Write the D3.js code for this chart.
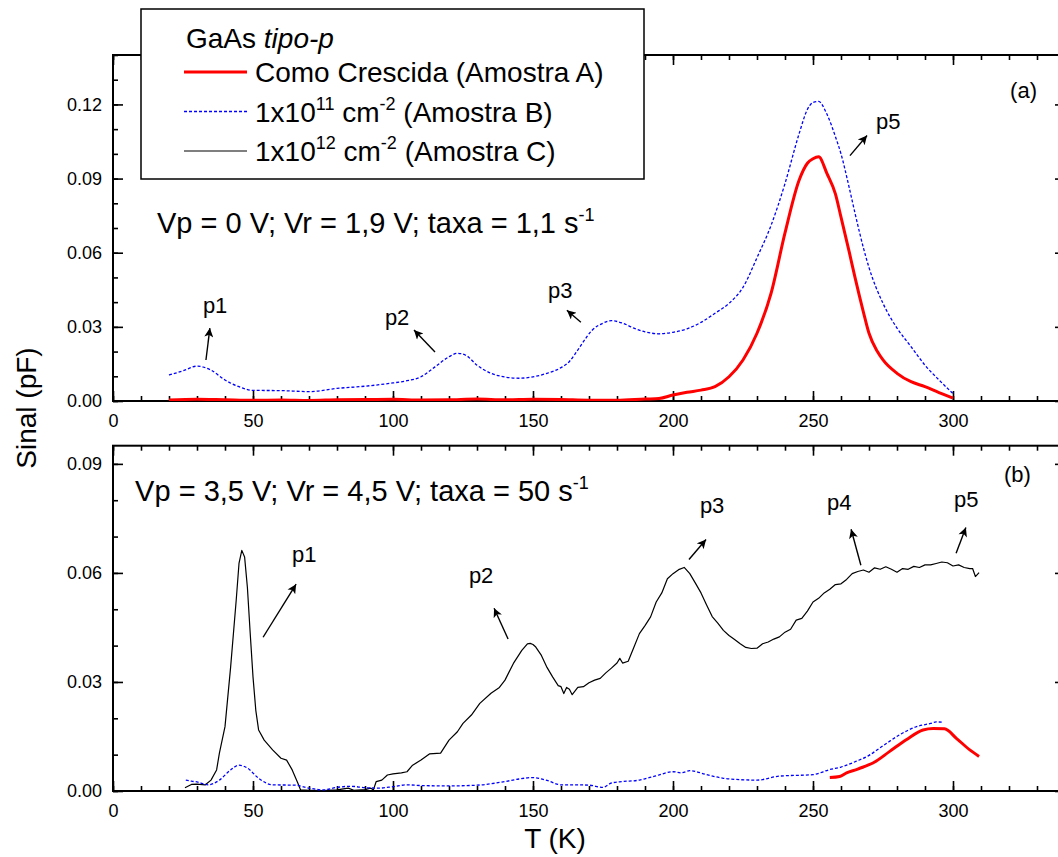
<!DOCTYPE html>
<html><head><meta charset="utf-8">
<script src="https://cdn.jsdelivr.net/npm/d3@7"></script>
<style>
body{margin:0;background:#fff;}
svg{display:block;font-family:"Liberation Sans",Arial,sans-serif;}
</style></head>
<body><svg id="c" width="1058" height="857"></svg>
<script>
// ---------- DATA ----------
// Panel (a): Vp = 0 V; Vr = 1,9 V; taxa = 1,1 s-1
const aT_A = [20,30,40,50,60,70,80,90,100,110,120,130,140,150,160,170,180,190,195,200,205,210,215,220,225,230,235,240,245,248,250,252,255,258,260,263,265,268,270,273,275,280,285,290,295,300];
const aV_A = [0.0004,0.0007,0.0005,0.0003,0.0004,0.0002,0.0005,0.0006,0.0007,0.0004,0.0005,0.0008,0.0005,0.0007,0.0006,0.0003,0.0003,0.0008,0.001,0.0024,0.0035,0.0044,0.0058,0.0098,0.0166,0.0274,0.0435,0.068,0.0892,0.0962,0.098,0.0988,0.092,0.0838,0.0744,0.060,0.050,0.036,0.0274,0.020,0.0166,0.0112,0.0078,0.0058,0.0034,0.0012];
const aT_B = [20,25,30,35,40,45,50,60,70,80,90,100,105,110,115,120,123,126,130,135,140,145,150,155,160,163,165,168,171,175,178,182,186,190,195,200,205,210,215,220,225,230,235,240,245,248,250,252,255,258,260,263,265,268,270,275,280,285,290,295,300];
const aV_B = [0.0105,0.0122,0.0141,0.0125,0.0085,0.0058,0.0043,0.0042,0.0038,0.0051,0.006,0.0073,0.0082,0.0098,0.0138,0.0179,0.0193,0.0185,0.0145,0.0112,0.0097,0.0092,0.0098,0.0112,0.0135,0.016,0.019,0.024,0.0285,0.0315,0.0325,0.0315,0.0295,0.028,0.0272,0.0278,0.0292,0.0318,0.0355,0.0395,0.046,0.058,0.071,0.088,0.108,0.118,0.1208,0.1212,0.116,0.107,0.100,0.086,0.076,0.062,0.054,0.0395,0.0295,0.022,0.0145,0.0085,0.003];

// Panel (b): Vp = 3,5 V; Vr = 4,5 V; taxa = 50 s-1
const bT_A = [256,259.5,262,265.5,268,271.4,277.4,283.3,289.3,292.9,297,301.2,306,309.3];
const bV_A = [0.0037,0.004,0.005,0.0059,0.0066,0.0077,0.0109,0.0141,0.0168,0.0172,0.0171,0.0145,0.0113,0.0095];
const bT_B = [26,28,30,34,38,42,45,48,52,57,65,70,75,80,85,90,95,100,105,110,120,130,140,145,150,155,160,165,170,175,178,182,188,194,200,203,206,212,218,222,230,238,250,256,260,265.5,270,273.8,277,281,287,292,294,296.4];
const bV_B = [0.003,0.0027,0.0025,0.0017,0.003,0.0058,0.0071,0.0063,0.0035,0.0017,0.0016,0.0008,0.0003,0.001,0.0013,0.0009,0.0008,0.0012,0.0017,0.0015,0.0014,0.0016,0.0026,0.0033,0.0037,0.0029,0.0017,0.0017,0.0016,0.001,0.0022,0.0026,0.003,0.0042,0.0053,0.005,0.0056,0.0045,0.0035,0.0032,0.003,0.0041,0.0045,0.0059,0.0066,0.0082,0.0098,0.0118,0.0135,0.0155,0.0177,0.0186,0.019,0.0189];
const bT_C = [25.7,28,30,33,35,37,38,40,42,44,45,46,47,48,49,50,51,52,54,57,60,62,64,66,67,70,75,80,84,86,90,92,93,94,96,98,100,103,105,107,110,113,117,120,123,125,128,131,135,138,140,143,146,148,149,150,151,153,155,157,159,160,161,162,163,164,166,168,170,172,174,176,178,180,181,182,184,186,188,190,192,194,196,198,200,202,204,206,208,210,212,214,216,218,220,222,224,226,228,230,232,234,236,238,240,242,244,246,248,250,252,254,256,258,260,262,264,266,268,270,272,274,276,278,280,282,284,286,288,290,292,294,296,298,300,302,304,306,307,308,309.3];
const bV_C = [0.0009,0.0018,0.0019,0.0017,0.003,0.0058,0.0104,0.0177,0.034,0.0525,0.0626,0.0662,0.0644,0.056,0.0434,0.0314,0.0222,0.0168,0.014,0.0113,0.009,0.0085,0.0058,0.0022,0.0003,0.0002,0.0001,0.0003,0.0008,0.0002,0.0004,0.0008,0.0003,0.0026,0.003,0.0044,0.0047,0.005,0.0053,0.0071,0.0085,0.0102,0.0104,0.014,0.0163,0.0186,0.0209,0.0241,0.0269,0.0285,0.0305,0.0351,0.0387,0.0405,0.0406,0.0403,0.0396,0.0373,0.034,0.0314,0.029,0.0287,0.0268,0.0285,0.028,0.0265,0.0285,0.0287,0.0298,0.0305,0.031,0.0325,0.0338,0.0352,0.0365,0.0352,0.0357,0.0395,0.0433,0.0455,0.0479,0.052,0.0545,0.0584,0.0598,0.0609,0.0615,0.0598,0.0572,0.0545,0.0512,0.048,0.0462,0.0442,0.0428,0.0417,0.0405,0.0395,0.0392,0.0393,0.0405,0.041,0.0418,0.0424,0.0437,0.0445,0.047,0.0475,0.0495,0.052,0.053,0.0545,0.0555,0.0568,0.057,0.0582,0.0598,0.0604,0.0608,0.0602,0.0614,0.061,0.0617,0.061,0.0602,0.0612,0.061,0.0618,0.0615,0.0622,0.0622,0.0626,0.063,0.0628,0.0619,0.0622,0.0615,0.0612,0.0612,0.059,0.0601];

const xTicks = [0,50,100,150,200,250,300];
const aYTicks = [0,0.03,0.06,0.09,0.12];
const bYTicks = [0,0.03,0.06,0.09];

// annotations in data units: [label, labelT, labelV, fromT, fromV, toT, toV]
const aNotes = [["p1",32.1,0.0355,33.2,0.0166,34.6,0.0295],["p2",97.1,0.0307,115,0.0198,107.5,0.0287],["p3",155.4,0.0416,167.1,0.0319,162.1,0.0367],["p5",272.5,0.1102,263.2,0.0993,269.3,0.1074]];
const bNotes = [["p1",63.9,0.0629,53.6,0.0423,65.4,0.0569],["p2",127.1,0.0571,141.1,0.0418,136.1,0.0503],["p3",209.6,0.0764,205.7,0.0637,211.8,0.0692],["p4",255,0.0772,267.1,0.0621,263.6,0.072],["p5",300.4,0.078,301.1,0.0654,304.6,0.0725]];

// ---------- DRAW ----------
const svg = d3.select("#c");
const x = d3.scaleLinear().domain([0,340]).range([113,1065]);
const panels = [
  {y: d3.scaleLinear().domain([0,0.14]).range([401,55]), ticks:aYTicks, tag:"(a)", tagT:320.4, tagV:0.1227,
   cond:["Vp = 0 V; Vr = 1,9 V; taxa = 1,1 s","-1"], condT:15.7, condV:0.0678, notes:aNotes,
   series:[{T:aT_B,V:aV_B,c:"#0000ff",w:1.3,d:"3,2",sm:true},{T:aT_A,V:aV_A,c:"#ff0000",w:3,d:null,sm:true}]},
  {y: d3.scaleLinear().domain([0,0.095]).range([791,445.7]), ticks:bYTicks, tag:"(b)", tagT:318.2, tagV:0.0849,
   cond:["Vp = 3,5 V; Vr = 4,5 V; taxa = 50 s","-1"], condT:7.9, condV:0.0799, notes:bNotes,
   series:[{T:bT_C,V:bV_C,c:"#000000",w:1.2,d:null,sm:false},{T:bT_B,V:bV_B,c:"#0000ff",w:1.3,d:"3,2",sm:true},{T:bT_A,V:bV_A,c:"#ff0000",w:3,d:null,sm:true}]}
];

const defs = svg.append("defs");
defs.append("marker").attr("id","ah").attr("viewBox","0 0 10 10").attr("refX",10).attr("refY",5)
  .attr("markerWidth",11).attr("markerHeight",9).attr("markerUnits","userSpaceOnUse").attr("orient","auto")
  .append("path").attr("d","M0,0L10,5L0,10L2.5,5Z").attr("fill","#000");

const xMinor = d3.range(0,341,10);
panels.forEach((p,i)=>{
  const y = p.y;
  const [y0,y1] = y.range();
  const cid = "clip"+i;
  defs.append("clipPath").attr("id",cid).append("rect").attr("x",x.range()[0]).attr("y",y1).attr("width",x.range()[1]-x.range()[0]).attr("height",y0-y1);
  const g = svg.append("g");
  const yMinor = d3.range(0, y.domain()[1]+1e-9, 0.01);
  g.append("g").attr("transform",`translate(0,${y0})`).call(d3.axisBottom(x).tickValues(xTicks).tickSize(-10).tickPadding(13.5).tickFormat(d3.format("d")));
  g.append("g").attr("transform",`translate(0,${y0})`).call(d3.axisBottom(x).tickValues(xMinor).tickSize(-5).tickFormat(""));
  g.append("g").attr("transform",`translate(0,${y1})`).call(d3.axisTop(x).tickValues(xTicks).tickSize(-10).tickFormat(""));
  g.append("g").attr("transform",`translate(0,${y1})`).call(d3.axisTop(x).tickValues(xMinor).tickSize(-5).tickFormat(""));
  g.append("g").attr("transform",`translate(${x.range()[0]},0)`).call(d3.axisLeft(y).tickValues(p.ticks).tickSize(-10).tickPadding(11).tickFormat(d3.format(".2f")));
  g.append("g").attr("transform",`translate(${x.range()[0]},0)`).call(d3.axisLeft(y).tickValues(yMinor).tickSize(-5).tickFormat(""));
  g.append("g").attr("transform",`translate(${x.range()[1]},0)`).call(d3.axisRight(y).tickValues(p.ticks).tickSize(-10).tickFormat(""));
  g.append("g").attr("transform",`translate(${x.range()[1]},0)`).call(d3.axisRight(y).tickValues(yMinor).tickSize(-5).tickFormat(""));
  g.selectAll(".domain").remove();
  g.selectAll(".tick line").attr("stroke","#000").attr("stroke-width",1.6);
  g.selectAll(".tick text").attr("font-size",18).attr("fill","#000").attr("font-family","Liberation Sans, Arial, sans-serif");
  g.append("rect").attr("x",x.range()[0]).attr("y",y1).attr("width",x.range()[1]-x.range()[0]).attr("height",y0-y1)
    .attr("fill","none").attr("stroke","#000").attr("stroke-width",2);
  const lg = g.append("g").attr("clip-path",`url(#${cid})`);
  p.series.forEach(s=>{
    const pts = s.T.map((t,k)=>[t,s.V[k]]);
    const ln = d3.line().x(d=>x(d[0])).y(d=>y(d[1]));
    if(s.sm) ln.curve(d3.curveMonotoneX);
    lg.append("path").datum(pts).attr("fill","none").attr("stroke",s.c).attr("stroke-width",s.w)
      .attr("stroke-dasharray",s.d).attr("stroke-linejoin","round").attr("d",ln);
  });
  p.notes.forEach(n=>{
    g.append("text").attr("x",x(n[1])).attr("y",y(n[2])).attr("font-size",22).text(n[0]);
    g.append("line").attr("x1",x(n[3])).attr("y1",y(n[4])).attr("x2",x(n[5])).attr("y2",y(n[6]))
      .attr("stroke","#000").attr("stroke-width",1.4).attr("marker-end","url(#ah)");
  });
  g.append("text").attr("x",x(p.tagT)).attr("y",y(p.tagV)).attr("font-size",22).text(p.tag);
  const ct = g.append("text").attr("x",x(p.condT)).attr("y",y(p.condV)).attr("font-size",29);
  ct.append("tspan").text(p.cond[0]);
  ct.append("tspan").attr("dy",-12).attr("font-size",18).text(p.cond[1]);
});

svg.append("text").attr("transform","translate(36,408) rotate(-90)").attr("text-anchor","middle").attr("font-size",28).text("Sinal (pF)");
svg.append("text").attr("x",555).attr("y",848).attr("text-anchor","middle").attr("font-size",28).text("T (K)");

const legItems = [
  {c:"#ff0000",w:3,d:null,parts:[["Como Crescida (Amostra A)",0]]},
  {c:"#0000ff",w:1.3,d:"3,2",parts:[["1x10",0],["11",1],[" cm",0],["-2",1],[" (Amostra B)",0]]},
  {c:"#000000",w:1.2,d:null,parts:[["1x10",0],["12",1],[" cm",0],["-2",1],[" (Amostra C)",0]]}
];
const leg = svg.append("g");
leg.append("rect").attr("x",141).attr("y",9).attr("width",503).attr("height",170).attr("fill","#fff").attr("stroke","#000").attr("stroke-width",1.5);
const lt = leg.append("text").attr("x",186).attr("y",48).attr("font-size",28);
lt.append("tspan").text("GaAs ");
lt.append("tspan").attr("font-style","italic").text("tipo-p");
legItems.forEach((it,k)=>{
  const cy = 72 + k*39.5;
  leg.append("line").attr("x1",184).attr("x2",247).attr("y1",cy).attr("y2",cy).attr("stroke",it.c).attr("stroke-width",it.w).attr("stroke-dasharray",it.d);
  const t = leg.append("text").attr("x",255).attr("y",cy+10).attr("font-size",28);
  let raised=false;
  it.parts.forEach(pt=>{
    const ts = t.append("tspan").text(pt[0]);
    if(pt[1] && !raised){ts.attr("dy",-12).attr("font-size",18);raised=true;}
    else if(pt[1] && raised){ts.attr("font-size",18);}
    else if(!pt[1] && raised){ts.attr("dy",12);raised=false;}
  });
});
</script></body></html>
